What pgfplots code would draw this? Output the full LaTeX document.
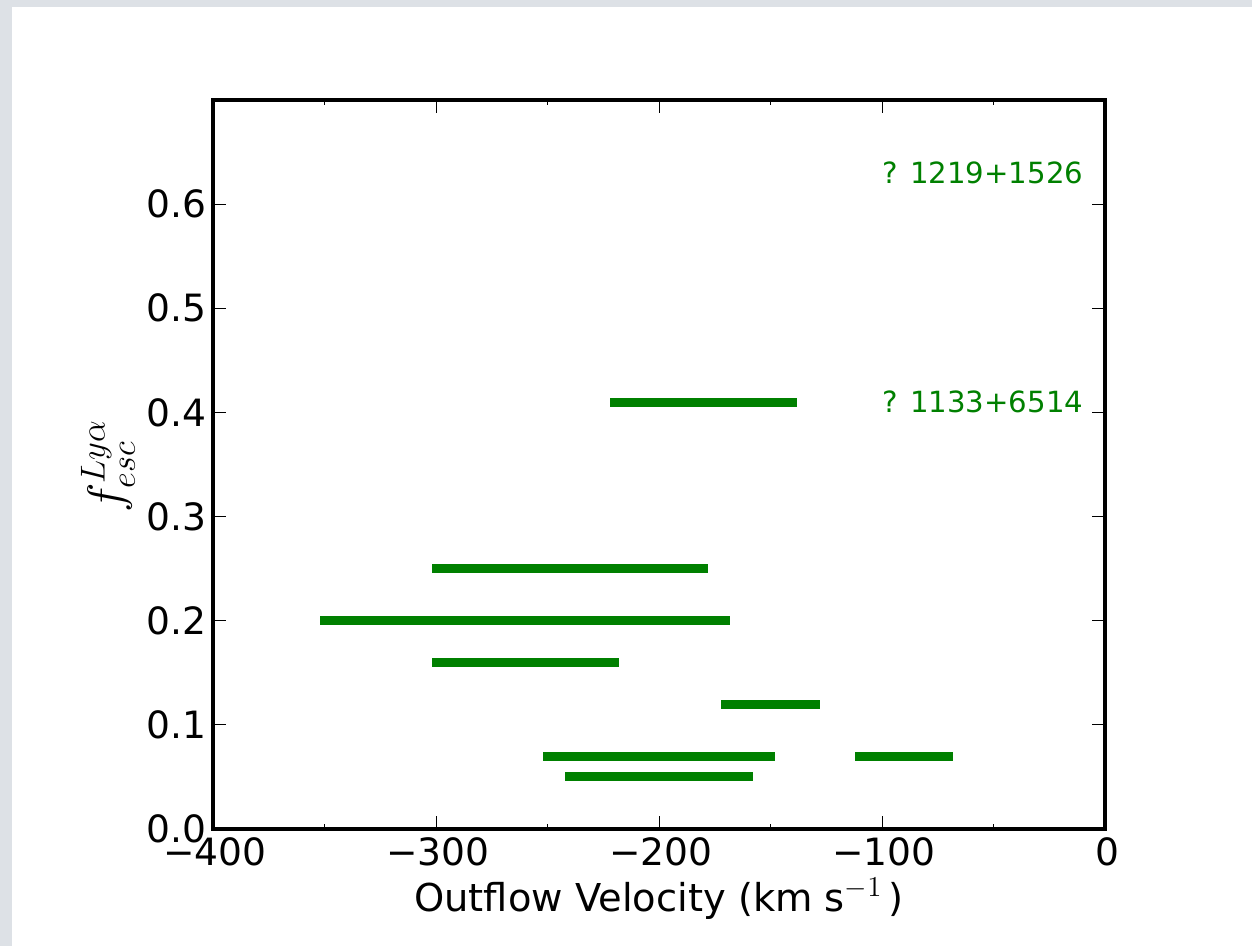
\documentclass[border=0pt]{standalone}
\usepackage{pgfplots}
\pgfplotsset{compat=1.18}
\usepackage{fontspec}
\setmainfont{DejaVu Sans}
\definecolor{mplgreen}{RGB}{0,128,0}
\definecolor{bggray}{RGB}{221,225,230}
\begin{document}
\begin{tikzpicture}
\fill[bggray] (0,0) rectangle (626pt,473pt);
\fill[white] (6pt,0) rectangle (626pt,469.5pt);
\begin{axis}[
  at={(106.5pt,58.5pt)}, anchor=south west, scale only axis,
  width=446pt, height=364.5pt,
  xmin=-400, xmax=0, ymin=0, ymax=0.7,
  axis line style={line width=2pt},
  tick align=inside,
  xtick={-400,-300,-200,-100,0},
  xticklabels={−400,−300,−200,−100,0},
  minor xtick={-350,-250,-150,-50},
  ytick={0,0.1,0.2,0.3,0.4,0.5,0.6},
  yticklabels={0.0,0.1,0.2,0.3,0.4,0.5,0.6},
  major tick length=6.5pt, minor tick length=2.5pt,
  every tick/.style={black, line width=0.5pt},
  tick label style={font=\fontsize{18.8}{22}\selectfont},
  xticklabel style={anchor=north, yshift=-1pt, xshift=1pt},
  yticklabel style={anchor=east, xshift=0pt},
  xlabel={Outflow Velocity (km s$^{-1}$\,)},
  xlabel style={font=\fontsize{19.2}{23}\selectfont, at={(axis description cs:0.5,0)}, anchor=base, yshift=-41.5pt},
]
\addplot[mplgreen, line width=4.5pt, line cap=rect, forget plot] coordinates {(-220,0.41) (-140,0.41)};
\addplot[mplgreen, line width=4.5pt, line cap=rect, forget plot] coordinates {(-300,0.25) (-180,0.25)};
\addplot[mplgreen, line width=4.5pt, line cap=rect, forget plot] coordinates {(-350,0.20) (-170,0.20)};
\addplot[mplgreen, line width=4.5pt, line cap=rect, forget plot] coordinates {(-300,0.16) (-220,0.16)};
\addplot[mplgreen, line width=4.5pt, line cap=rect, forget plot] coordinates {(-170,0.12) (-130,0.12)};
\addplot[mplgreen, line width=4.5pt, line cap=rect, forget plot] coordinates {(-250,0.07) (-150,0.07)};
\addplot[mplgreen, line width=4.5pt, line cap=rect, forget plot] coordinates {(-110,0.07) (-70,0.07)};
\addplot[mplgreen, line width=4.5pt, line cap=rect, forget plot] coordinates {(-240,0.05) (-160,0.05)};
\node[mplgreen, anchor=base east, font=\fontsize{14.6}{17}\selectfont, inner sep=0pt, xshift=0.5pt] at (axis cs:-10,0.62) {? 1219+1526};
\node[mplgreen, anchor=base east, font=\fontsize{14.6}{17}\selectfont, inner sep=0pt, xshift=0.5pt] at (axis cs:-10,0.40) {? 1133+6514};
\end{axis}
\node[rotate=90, anchor=center, font=\fontsize{23}{27}\selectfont, inner sep=0pt] at (54pt,240pt) {$f^{Ly\alpha}_{esc}$};
\pgfresetboundingbox
\useasboundingbox (0,0) rectangle (626pt,473pt);
\end{tikzpicture}
\end{document}
